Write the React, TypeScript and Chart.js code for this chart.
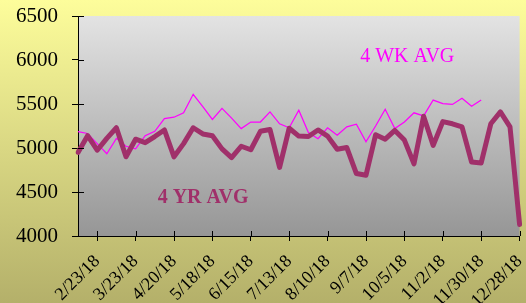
import React, { useEffect, useRef } from 'react';
import { Chart, registerables } from 'chart.js';

Chart.register(...registerables);

const weeks = [
  '2/9/18', '2/16/18', '2/23/18', '3/2/18', '3/9/18', '3/16/18', '3/23/18', '3/30/18',
  '4/6/18', '4/13/18', '4/20/18', '4/27/18', '5/4/18', '5/11/18', '5/18/18', '5/25/18',
  '6/1/18', '6/8/18', '6/15/18', '6/22/18', '6/29/18', '7/6/18', '7/13/18', '7/20/18',
  '7/27/18', '8/3/18', '8/10/18', '8/17/18', '8/24/18', '8/31/18', '9/7/18', '9/14/18',
  '9/21/18', '9/28/18', '10/5/18', '10/12/18', '10/19/18', '10/26/18', '11/2/18', '11/9/18',
  '11/16/18', '11/23/18', '11/30/18', '12/7/18', '12/14/18', '12/21/18', '12/28/18',
];

const fourYrAvg = [
  4950, 5140, 4975, 5110, 5230, 4900, 5100, 5060, 5130, 5205, 4900, 5050, 5230, 5160, 5140, 4990,
  4890, 5020, 4980, 5190, 5210, 4780, 5225, 5135, 5130, 5205, 5135, 4985, 5005, 4710, 4690, 5150,
  5100, 5200, 5090, 4820, 5360, 5030, 5300, 5275, 5240, 4840, 4830, 5275, 5410, 5240, 4130,
];

const fourWkAvg = [
  5185, 5165, 5050, 4935, 5110, 5020, 4990, 5140, 5190, 5335, 5350, 5400, 5610, 5470, 5325, 5450,
  5340, 5220, 5295, 5295, 5410, 5275, 5230, 5430, 5175, 5105, 5230, 5145, 5240, 5270, 5070, 5250,
  5440, 5220, 5295, 5400, 5365, 5545, 5505, 5495, 5565, 5475, 5545,
];

const yTicks = [4000, 4500, 5000, 5500, 6000, 6500];
const labelEvery = 4;
const labelStart = 2;

const SERIF = '"Liberation Serif", "Times New Roman", serif';
const YR_COLOR = '#A0306A';
const WK_COLOR = '#FF00FF';

const isLabeled = (i: number) => i >= labelStart && (i - labelStart) % labelEvery === 0;

const decorPlugin = {
  id: 'decor',
  beforeDraw(chart: any) {
    const { ctx, width, height, chartArea } = chart;
    ctx.save();
    const g = ctx.createLinearGradient(0, 0, 0, height);
    g.addColorStop(0, '#FDFD9B');
    g.addColorStop(1, '#B4B06A');
    ctx.fillStyle = g;
    ctx.fillRect(0, 0, width, height);
    const g2 = ctx.createLinearGradient(0, chartArea.top, 0, chartArea.bottom);
    g2.addColorStop(0, '#E3E3E3');
    g2.addColorStop(1, '#969696');
    ctx.fillStyle = g2;
    ctx.fillRect(chartArea.left, chartArea.top, chartArea.right - chartArea.left, chartArea.bottom - chartArea.top);
    ctx.restore();
  },
  afterDraw(chart: any) {
    const { ctx, chartArea, scales } = chart;
    const xs = scales.x;
    const ys = scales.y;
    ctx.save();
    ctx.strokeStyle = '#000';
    ctx.lineWidth = 1;
    ctx.beginPath();
    for (let i = 0; i < weeks.length; i++) {
      if (!isLabeled(i)) continue;
      const px = Math.round(xs.getPixelForValue(i)) + 0.5;
      ctx.moveTo(px, chartArea.bottom);
      ctx.lineTo(px, chartArea.bottom - 5);
    }
    for (const v of yTicks) {
      const py = Math.round(ys.getPixelForValue(v)) + 0.5;
      ctx.moveTo(chartArea.left, py);
      ctx.lineTo(chartArea.left + 6, py);
    }
    ctx.stroke();

    ctx.textBaseline = 'alphabetic';
    ctx.textAlign = 'left';
    ctx.fillStyle = WK_COLOR;
    ctx.font = `20px ${SERIF}`;
    ctx.fillText('4 WK AVG', xs.getPixelForValue(29.4), ys.getPixelForValue(5975));
    ctx.fillStyle = YR_COLOR;
    ctx.font = `bold 20px ${SERIF}`;
    ctx.fillText('4 YR AVG', xs.getPixelForValue(8.3), ys.getPixelForValue(4375));
    ctx.restore();
  },
};

export default function App() {
  const ref = useRef<HTMLCanvasElement | null>(null);

  useEffect(() => {
    document.body.style.margin = '0';
    const canvas = ref.current;
    if (!canvas) return;
    const chart = new Chart(canvas, {
      type: 'line',
      data: {
        labels: weeks,
        datasets: [
          {
            label: '4 YR AVG',
            data: fourYrAvg,
            borderColor: YR_COLOR,
            borderWidth: 5,
            pointRadius: 0,
            tension: 0,
            borderJoinStyle: 'round',
            borderCapStyle: 'round',
            fill: false,
          },
          {
            label: '4 WK AVG',
            data: fourWkAvg,
            borderColor: WK_COLOR,
            borderWidth: 1.25,
            pointRadius: 0,
            tension: 0,
            fill: false,
          },
        ],
      },
      options: {
        animation: false,
        responsive: false,
        layout: { padding: { top: 16, right: 6.4, left: 0, bottom: 0 } },
        plugins: { legend: { display: false }, tooltip: { enabled: false } },
        scales: {
          x: {
            type: 'category',
            offset: false,
            grid: {
              display: true,
              drawOnChartArea: false,
              drawTicks: true,
              tickLength: 5,
              color: (c: any) => (isLabeled(c.index) ? '#000' : 'rgba(0,0,0,0)'),
            },
            border: { display: true, color: '#000', width: 1 },
            ticks: {
              autoSkip: false,
              minRotation: 45,
              maxRotation: 45,
              padding: 10,
              color: '#000',
              font: { family: SERIF, size: 18 },
              callback: (_v: any, i: number) => (isLabeled(i) ? weeks[i] : ''),
            },
            afterFit: (s: any) => {
              s.height = 67;
              s.paddingLeft = 0;
              s.paddingRight = 0;
            },
          },
          y: {
            min: 4000,
            max: 6500,
            afterBuildTicks: (s: any) => {
              s.ticks = yTicks.map((v) => ({ value: v }));
            },
            grid: {
              display: true,
              drawOnChartArea: false,
              drawTicks: true,
              tickLength: 6,
              color: '#000',
            },
            border: { display: true, color: '#000', width: 1 },
            ticks: {
              padding: 14,
              color: '#000',
              font: { family: SERIF, size: 21 },
              callback: (v: any) => String(v),
            },
            afterFit: (s: any) => {
              s.width = 78;
              s.paddingTop = 0;
              s.paddingBottom = 0;
            },
          },
        },
      },
      plugins: [decorPlugin],
    });
    return () => chart.destroy();
  }, []);

  return (
    <div style={{ position: 'fixed', left: 0, top: 0, width: 526, height: 303 }}>
      <canvas ref={ref} width={526} height={303} style={{ display: 'block' }} />
    </div>
  );
}
